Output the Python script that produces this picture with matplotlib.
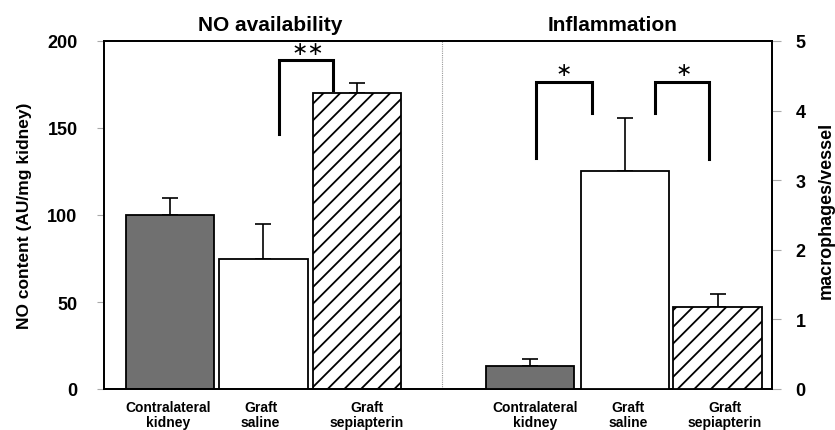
import matplotlib
matplotlib.use("Agg")
import matplotlib.pyplot as plt
import numpy as np

plt.rcParams['font.family'] = ['Liberation Sans', 'DejaVu Sans']
plt.rcParams['hatch.linewidth'] = 1.3
plt.rcParams['hatch.color'] = '#585858'

categories = ["Contralateral\nkidney", "Graft\nsaline", "Graft\nsepiapterin"]
no_values = [100, 75, 170]
no_errors = [10, 20, 6]
infl_values = [0.33, 3.13, 1.18]
infl_errors = [0.10, 0.77, 0.18]
left_ticks = [0, 50, 100, 150, 200]
right_ticks = [0, 1, 2, 3, 4, 5]

fig = plt.figure(figsize=(8.35, 4.31), dpi=100)
ax = fig.add_axes([104/835, 1-390/431, (772-104)/835, (390-42)/431])
ax2 = ax.twinx()

xl = np.array([0.0, 1.0, 2.0])
xr = np.array([3.84, 4.85, 5.84])
w = 0.94
faces = ['#707070', 'white', 'white']
hatches = [None, None, '//']

for i in range(3):
    ax.bar(xl[i], no_values[i], width=w, color=faces[i], edgecolor='black',
           linewidth=1.3, hatch=hatches[i], zorder=3)
    ax.errorbar(xl[i], no_values[i], yerr=[[0], [no_errors[i]]], fmt='none',
                ecolor='black', elinewidth=1.2, capsize=5.5, capthick=1.2, zorder=2)
    ax2.bar(xr[i], infl_values[i], width=w, color=faces[i], edgecolor='black',
            linewidth=1.3, hatch=hatches[i], zorder=3)
    ax2.errorbar(xr[i], infl_values[i], yerr=[[0], [infl_errors[i]]], fmt='none',
                 ecolor='black', elinewidth=1.2, capsize=5.5, capthick=1.2, zorder=2)

ax.set_xlim(-0.70, 6.42)
ax.set_ylim(0, 200)
ax2.set_ylim(0, 5)
ax.set_yticks(left_ticks)
ax2.set_yticks(right_ticks)
ax.tick_params(axis='y', length=5, width=0.8, color='#aaaaaa', labelsize=13, pad=14)
ax2.tick_params(axis='y', length=6.5, width=0.8, color='#aaaaaa', labelsize=13, pad=10.5)
for a in (ax, ax2):
    for lab in a.get_yticklabels():
        lab.set_fontweight('bold')
    for s in a.spines.values():
        s.set_linewidth(1.3)

label_offsets = [-0.02, -0.03, 0.10, 0.06, 0.04, 0.08]
ax.set_xticks(list(np.concatenate([xl, xr]) + np.array(label_offsets)))
ax.set_xticklabels(categories + categories, fontsize=10, fontweight='bold', linespacing=1.1)
ax.tick_params(axis='x', length=0, pad=8)

ax.set_ylabel("NO content (AU/mg kidney)", fontsize=12.5, fontweight='bold', labelpad=11)
fig.text(826/835, 1-210/431, "macrophages/vessel", rotation=90, ha='center', va='center',
         fontsize=13, fontweight='bold')

ax.axvline(2.90, color='#999999', linestyle=(0, (1, 1)), linewidth=0.8, zorder=1)

fig.text(270/835, 1-31/431, "NO availability", ha='center', va='baseline', fontsize=15, fontweight='bold')
fig.text(613/835, 1-31/431, "Inflammation", ha='center', va='baseline', fontsize=15, fontweight='bold')

def bracket(x1, y1, x2, y2, ytop, label, lab_x, lab_y):
    ax.plot([x1, x1, x2, x2], [y1, ytop, ytop, y2], color='black', linewidth=2.2,
            solid_joinstyle='miter', zorder=4, clip_on=False)
    ax.text(lab_x, lab_y, label, ha='center', va='center', fontsize=14,
            family=['DejaVu Sans'], zorder=4)

bracket(1.162, 146.6, 1.738, 172, 189, "\u2217\u2217", 1.47, 195.5)
bracket(3.90, 133, 4.50, 158.6, 176.4, "\u2217", 4.20, 183.5)
bracket(5.17, 158.6, 5.746, 132.2, 176.4, "\u2217", 5.48, 183.5)

fig.savefig("out.png", dpi=100)
